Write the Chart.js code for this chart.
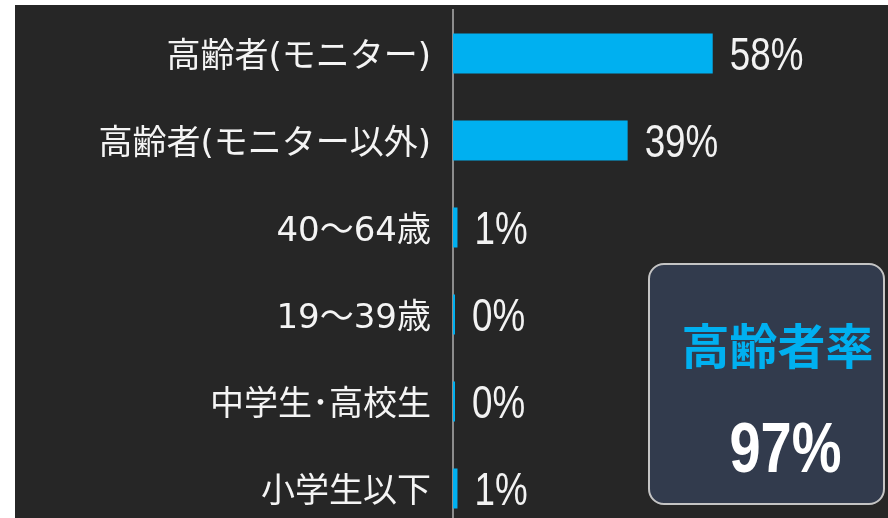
<!DOCTYPE html>
<html>
<head>
<meta charset="utf-8">
<script src="https://cdn.jsdelivr.net/npm/chart.js@4"></script>
<style>
  html, body { margin: 0; padding: 0; background: #ffffff; overflow: hidden; width: 888px; height: 518px; }
  #panel { position: absolute; left: 15px; top: 5px; width: 873px; height: 530px; background: #262626; }
  #wrap { position: absolute; left: 0; top: 0; width: 873px; height: 530px; }
  #rateBox {
    position: absolute; left: 633px; top: 258px; width: 237px; height: 242px;
    box-sizing: border-box; border: 2px solid #c4c4c4; border-radius: 16px; background: #323b4d;
    text-align: center;
  }
  #rateTitle { position: absolute; left: 0; right: 0; top: 48px; padding-left: 22px; color: #00b0f0; font: bold 48px "Noto Sans CJK JP", sans-serif; line-height: 60px; }
  #rateValue { position: absolute; left: 38px; right: 0; top: 143px; color: #ffffff; font: bold 70px "Liberation Sans", Arial, sans-serif; line-height: 80px; transform: scaleX(0.8); }
</style>
</head>
<body>
<div id="panel">
  <div id="wrap"><canvas id="canvas1"></canvas></div>
  <div id="rateBox">
    <div id="rateTitle">高齢者率</div>
    <div id="rateValue">97%</div>
  </div>
</div>
<script>
// categories (top to bottom)
var categories = [
  "高齢者(モニター)",
  "高齢者(モニター以外)",
  "40～64歳",
  "19～39歳",
  "中学生･高校生",
  "小学生以下"
];
// share of each group, %
var shares = [58, 39, 1, 0, 0, 1];

// draws "58%" etc. right of each bar (narrowed like the original)
var valueLabels = {
  id: "valueLabels",
  afterDatasetsDraw(chart) {
    var ctx = chart.ctx;
    var meta = chart.getDatasetMeta(0);
    ctx.save();
    ctx.fillStyle = "#f2f2f2";
    ctx.font = '46px "Liberation Sans", Arial, sans-serif';
    ctx.textAlign = "left";
    ctx.textBaseline = "middle";
    meta.data.forEach((bar, i) => {
      ctx.save();
      ctx.translate(bar.x + 17, bar.y + 4);
      ctx.scale(0.8, 1);
      ctx.fillText(shares[i] + "%", 0, 0);
      ctx.restore();
    });
    ctx.restore();
  }
};

var data = {
  labels: categories,
  datasets: [
    {
      data: shares,
      backgroundColor: "#00b0f0",
      borderWidth: 0,
      barPercentage: 0.46,
      categoryPercentage: 1.0,
      minBarLength: 2,
    },
  ],
};

var options = {
  indexAxis: "y",
  responsive: true,
  maintainAspectRatio: false,
  animation: false,
  layout: { padding: { top: 5, right: 32, bottom: 3, left: 0 } },
  plugins: {
    legend: { display: false },
    tooltip: { enabled: false },
  },
  scales: {
    x: {
      display: false,
      min: 0,
      max: 90,
    },
    y: {
      afterFit: (scale) => {
        scale.width = 438;
        scale.paddingTop = 0;
        scale.paddingBottom = 0;
      },
      grid: { display: false, drawTicks: false },
      border: { display: true, color: "#8c8c8c", width: 2 },
      ticks: {
        color: "#f4f4f4",
        padding: 22,
        labelOffset: 5,
        font: { family: '"DejaVu Sans", "Noto Sans CJK JP", sans-serif', size: 34 },
      },
    },
  },
};

var chart = new Chart(document.getElementById("canvas1"), {
  type: "bar",
  data: data,
  options: options,
  plugins: [valueLabels],
});
</script>
</body>
</html>
